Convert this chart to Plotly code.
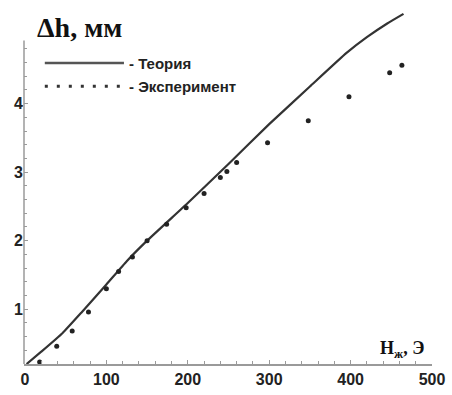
import numpy as np
import plotly.graph_objects as go

# theory curve
theory_h = [2, 20, 46, 70, 100, 125, 150, 200, 250, 300, 350, 395, 420, 445, 465]
theory_dh = [0.20, 0.38, 0.65, 0.96, 1.36, 1.70, 2.00, 2.55, 3.12, 3.70, 4.25, 4.74, 4.97, 5.17, 5.31]

# experimental points
exp_h = [18, 39, 58, 78, 100, 115, 132, 150, 174, 198, 220, 240, 248, 260, 298, 348, 398, 448, 463]
exp_dh = [0.23, 0.46, 0.68, 0.96, 1.30, 1.55, 1.76, 2.00, 2.24, 2.48, 2.69, 2.92, 3.01, 3.14, 3.43, 3.75, 4.10, 4.45, 4.56]

x_ticks = [0, 100, 200, 300, 400, 500]
y_ticks = [1, 2, 3, 4]
x_minor = [v for v in range(20, 500, 20) if v % 100]
y_minor = [round(v, 1) for v in np.arange(0.4, 4.81, 0.2) if abs(v - round(v)) > 0.01]

axis_grey = "#9a9a9a"
tick_font = dict(family="Liberation Sans", size=16, color="#222", weight="bold")


def build_figure():
    fig = go.Figure()
    fig.add_trace(go.Scatter(
        x=theory_h, y=theory_dh, mode="lines",
        line=dict(color="#333", width=2.2, shape="spline", smoothing=0.4),
        hoverinfo="skip"
    ))
    fig.add_trace(go.Scatter(
        x=exp_h, y=exp_dh, mode="markers",
        marker=dict(color="#222", size=5),
        hoverinfo="skip"
    ))

    fig.update_layout(
        width=452, height=395,
        margin=dict(l=24, r=16, t=7, b=18),
        paper_bgcolor="white", plot_bgcolor="white",
        showlegend=False,
        xaxis=dict(
            range=[-1.2, 500], showgrid=False, zeroline=False,
            showline=True, linecolor=axis_grey, linewidth=1.5,
            tickvals=x_ticks, ticks="inside", ticklen=4, tickcolor=axis_grey,
            tickfont=tick_font,
            minor=dict(tickvals=x_minor, ticks="inside", ticklen=3, tickcolor=axis_grey),
        ),
        yaxis=dict(
            range=[0.2, 5.41], showgrid=False, zeroline=False, showline=False,
            tickvals=y_ticks, ticks="inside", ticklen=4, tickcolor=axis_grey,
            tickfont=tick_font,
            minor=dict(tickvals=y_minor, ticks="inside", ticklen=3, tickcolor=axis_grey),
        ),
    )

    # left axis line stops below the top of the curve
    fig.add_shape(type="line", xref="paper", yref="y", x0=0, x1=0, y0=0.2, y1=4.92,
                  line=dict(color=axis_grey, width=1.5))

    # legend drawn by hand
    fig.add_shape(type="line", xref="paper", yref="paper", x0=0.051, x1=0.245, y0=0.843, y1=0.843,
                  line=dict(color="#555", width=2.5))
    fig.add_shape(type="line", xref="paper", yref="paper", x0=0.051, x1=0.245, y0=0.778, y1=0.778,
                  line=dict(color="#333", width=3, dash="3px,9px"))
    legend_font = dict(family="Liberation Sans", size=15, color="#222")
    fig.add_annotation(x=0.252, y=0.843, xref="paper", yref="paper", text="<b>- Теория</b>",
                       showarrow=False, xanchor="left", yanchor="middle", font=legend_font)
    fig.add_annotation(x=0.252, y=0.778, xref="paper", yref="paper", text="<b>- Эксперимент</b>",
                       showarrow=False, xanchor="left", yanchor="middle", font=legend_font)

    # axis titles
    fig.add_annotation(x=0.027, y=0.943, xref="paper", yref="paper", text="<b>Δh, мм</b>",
                       showarrow=False, xanchor="left", yanchor="middle",
                       font=dict(family="Liberation Serif", size=28, color="#111"))
    fig.add_annotation(x=0.985, y=0.04, xref="paper", yref="paper", text="<b>H<sub>ж</sub>, Э</b>",
                       showarrow=False, xanchor="right", yanchor="middle",
                       font=dict(family="Liberation Serif", size=18, color="#111"))
    return fig


if __name__ == "__main__":
    fig = build_figure()
    # drop the page's default body margin so the chart sits at the window's corner
    fig.write_html("out.html", config={"displayModeBar": False},
                   post_script="document.body.style.margin='0';")
